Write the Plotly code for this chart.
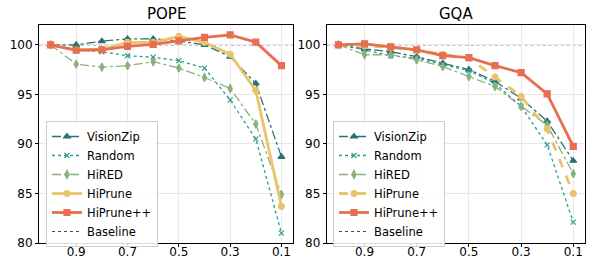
import plotly.graph_objects as go

ratios = [1.0, 0.9, 0.8, 0.7, 0.6, 0.5, 0.4, 0.3, 0.2, 0.1]
x_ticks = [0.9, 0.7, 0.5, 0.3, 0.1]
y_ticks = [80, 85, 90, 95, 100]
baseline_value = 100

pope_visionzip = [100, 100.0, 100.37, 100.6, 100.6, 100.4, 100.0, 98.8, 96.1, 88.7]
pope_random = [100, 99.5, 99.3, 98.9, 98.75, 98.4, 97.65, 94.45, 90.5, 81.0]
pope_hired = [100, 98.05, 97.75, 97.9, 98.3, 97.65, 96.7, 95.6, 92.0, 84.9]
pope_hiprune = [100, 99.5, 99.55, 100.25, 100.25, 100.85, 100.25, 99.05, 95.4, 83.7]
pope_hiprunepp = [100, 99.45, 99.5, 99.85, 100.05, 100.4, 100.75, 101.0, 100.27, 97.9]

gqa_visionzip = [100, 99.6, 99.3, 98.8, 98.15, 97.5, 96.3, 94.6, 92.3, 88.3]
gqa_random = [100, 99.5, 98.9, 98.65, 98.0, 97.4, 96.1, 93.8, 89.9, 82.1]
gqa_hired = [100, 99.0, 99.0, 98.5, 97.8, 96.8, 95.8, 93.8, 91.9, 87.0]
gqa_hiprune = [100, 99.9, 99.75, 99.45, 99.05, 98.65, 96.75, 94.8, 91.5, 85.0]
gqa_hiprunepp = [100, 100.1, 99.8, 99.5, 98.9, 98.7, 97.9, 97.2, 95.05, 89.75]

titles = ["POPE", "GQA"]

C_VZ = "#287271"
C_RD = "#2a9d8f"
C_HR = "#8ab17d"
C_HP = "#e9c46a"
C_HPP = "#e76f51"

FONT = "DejaVu Sans"

fig = go.Figure()

def add_panel(idx, vz, rd, hr, hp, hpp, hp_dash):
    xa = "x" if idx == 1 else "x2"
    ya = "y" if idx == 1 else "y2"
    lg = "legend" if idx == 1 else "legend2"
    specs = [
        ("VisionZip", vz, C_VZ, "dashdot", 1.3, "triangle-up", 6),
        ("Random", rd, C_RD, "dot", 1.3, "x-thin-open", 5),
        ("HiRED", hr, C_HR, "dashdot", 1.3, "diamond-tall", 6),
        ("HiPrune", hp, C_HP, hp_dash, 2.8, "circle", 6),
        ("HiPrune++", hpp, C_HPP, "solid", 2.8, "square", 6),
    ]
    for name, ys, col, dash, w, sym, ms in specs:
        fig.add_trace(go.Scatter(
            x=ratios, y=ys, name=name, mode="lines+markers",
            line=dict(color=col, width=w, dash=dash),
            marker=dict(symbol=sym, size=ms, color=col,
                        line=dict(color=col, width=1.2)),
            xaxis=xa, yaxis=ya, legend=lg, showlegend=True,
        ))
    fig.add_shape(type="line", xref=f"{xa} domain", yref=ya,
                  x0=0, x1=1, y0=baseline_value, y1=baseline_value,
                  line=dict(color="#333333", width=0.9, dash="dot"),
                  layer="below", showlegend=True, name="Baseline", legend=lg)

add_panel(1, pope_visionzip, pope_random, pope_hired, pope_hiprune, pope_hiprunepp, "solid")
add_panel(2, gqa_visionzip, gqa_random, gqa_hired, gqa_hiprune, gqa_hiprunepp, "dash")

axis_common = dict(
    showline=True, linecolor="black", linewidth=1, mirror=True,
    ticks="outside", ticklen=3, tickwidth=1, tickcolor="black",
    showgrid=True, gridcolor="#e8e8e8", gridwidth=1, zeroline=False,
    automargin=False,
    tickfont=dict(family=FONT, size=12, color="black"),
)

xdoms = [[39/589, 293/589], [326.7/589, 585/589]]
ydom = [15/258, 233/258]

layout = dict(
    width=589, height=258,
    margin=dict(l=0, r=0, t=0, b=0, autoexpand=False),
    paper_bgcolor="white", plot_bgcolor="white",
    font=dict(family=FONT, size=12, color="black"),
)
for i, key in enumerate(["xaxis", "xaxis2"]):
    layout[key] = dict(axis_common, domain=xdoms[i], range=[1.045, 0.055],
                       tickvals=x_ticks, ticktext=[str(t) for t in x_ticks],
                       ticklabelstandoff=-5,
                       anchor="y" if i == 0 else "y2")
for i, key in enumerate(["yaxis", "yaxis2"]):
    layout[key] = dict(axis_common, domain=ydom, range=[80, 102],
                       tickvals=y_ticks, anchor="x" if i == 0 else "x2")

leg_common = dict(
    bgcolor="rgba(255,255,255,0.85)", bordercolor="#cccccc", borderwidth=1,
    font=dict(family=FONT, size=11.5, color="black"),
    xanchor="left", yanchor="top", tracegroupgap=0, itemwidth=30,
)
layout["legend"] = dict(leg_common, x=46/589, y=(258-121)/258)
layout["legend2"] = dict(leg_common, x=333/589, y=(258-121)/258)

fig.update_layout(**layout)

for i, t in enumerate(titles):
    fig.add_annotation(text=t, x=(xdoms[i][0] + xdoms[i][1]) / 2, y=1 - 14/258,
                       xref="paper", yref="paper", showarrow=False,
                       xanchor="center", yanchor="middle",
                       font=dict(family=FONT, size=15, color="black"))

fig.write_html("out.html", config={"displayModeBar": False},
               post_script="document.body.style.margin='0';")
